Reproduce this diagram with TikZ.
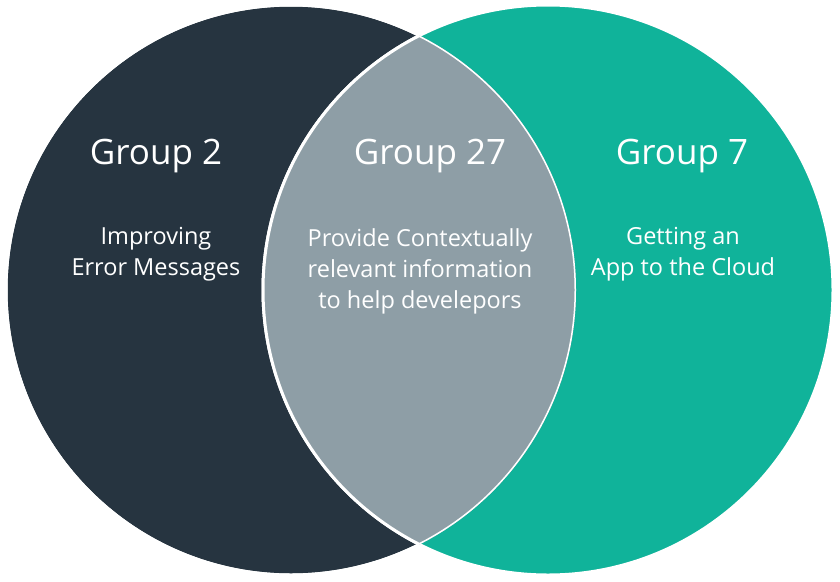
\documentclass[tikz,border=0pt]{standalone}
\usepackage{fontspec}
\setmainfont{Open Sans}
\usepackage{tikz}
\usetikzlibrary{positioning}
\definecolor{darkgrp}{HTML}{263440}
\definecolor{tealgrp}{HTML}{10B39A}
\definecolor{lensgrp}{HTML}{8E9EA6}

\begin{document}
\begin{tikzpicture}[
    x=1pt, y=-1pt,
    blob/.style={circle, minimum size=570pt, inner sep=0pt, draw=white, line width=3pt, fill=#1},
    title/.style={text=white, font=\fontsize{35}{40}\selectfont},
    body/.style={text=white, align=center, font=\fontsize{23.5}{31}\selectfont},
]
\useasboundingbox[fill=white] (0,0) rectangle (840,581);

% Circles
\node[blob=darkgrp] (g2) at (291,290) {};
\node[blob=tealgrp] (g7) at (548,290) {};

% Overlap
\begin{scope}
\clip (g2.center) circle[radius=285pt];
\fill[lensgrp] (g7.center) circle[radius=285pt];
\draw[white, line width=3pt] (g7.center) circle[radius=285pt];
\draw[white, line width=3pt] (g2.center) circle[radius=285pt];
\end{scope}

% Titles
\node[title] (t2) at (156,156) {Group 2};
\node[title] (t27) at (430,156) {Group 27};
\node[title] (t7) at (682,156) {Group 7};

% Texts
\node[body] (b2) at (156,254) {Improving\\Error Messages};
\node[body] (b27) at (420,271) {Provide Contextually\\relevant information\\to help develepors};
\node[body] (b7) at (683,254) {Getting an\\App to the Cloud};

\end{tikzpicture}
\end{document}
